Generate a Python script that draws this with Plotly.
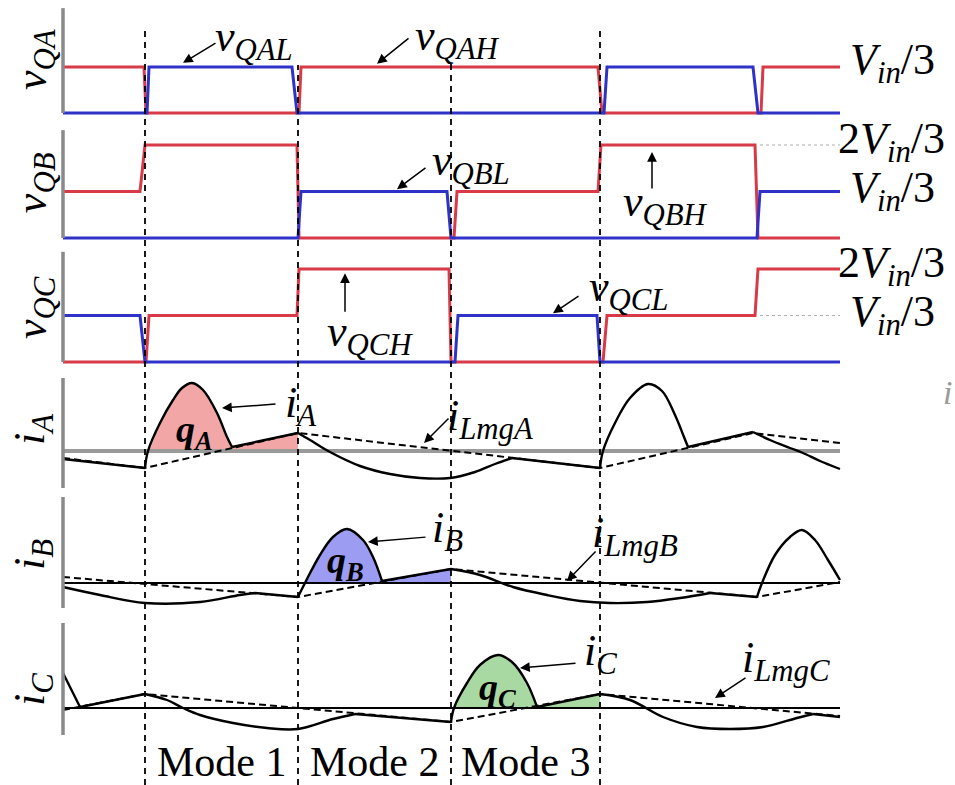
import numpy as np
import plotly.graph_objects as go

W, H = 955, 785

# ---------------------------------------------------------------- data
# time axis in arbitrary units; mode boundaries and end of the window
MODE_EDGES = [82, 235, 388, 537]
MODE_NAMES = ["Mode 1", "Mode 2", "Mode 3"]
T_END = 777

# switch voltages, in units of Vin/3
VQAH_T = [0, 81, 83, 236, 238, 535, 539, 698, 700, 777]
VQAH_V = [1, 1, 0, 0, 1, 1, 0, 0, 1, 1]
VQAL_T = [0, 84, 86, 229, 234, 541, 544, 690, 695, 777]
VQAL_V = [0, 0, 1, 1, 0, 0, 1, 1, 0, 0]

VQBH_T = [0, 77, 82, 234, 236, 391, 394, 535, 538, 692, 695, 777]
VQBH_V = [1, 1, 2, 2, 0, 0, 1, 1, 2, 2, 0, 0]
VQBL_T = [0, 235, 238, 384, 388, 694, 697, 777]
VQBL_V = [0, 0, 1, 1, 0, 0, 1, 1]

VQCH_T = [0, 83, 86, 234, 236, 386, 388, 540, 544, 692, 695, 777]
VQCH_V = [0, 0, 1, 1, 2, 2, 0, 0, 1, 1, 2, 2]
VQCL_T = [0, 77, 82, 392, 395, 534, 537, 777]
VQCL_V = [1, 1, 0, 0, 1, 1, 0, 0]

# phase currents (arbitrary units) and their kinks
IA_T = [0, 82, 85, 97, 110, 119, 129, 140, 154, 164, 169, 235, 247, 267, 297,
        327, 357, 387, 412, 432, 449, 537, 540, 552, 567, 585, 599, 612, 621,
        625, 690, 707, 727, 740, 757, 777]
IA_V = [-0.8, -1.7, 0.0, 2.8, 5.1, 6.3, 6.8, 6.1, 3.8, 1.4, 0.4, 1.8, 1.1, -0.1,
        -1.5, -2.3, -2.7, -2.7, -2.1, -1.3, -0.7, -1.7, 0.0, 2.8, 5.3, 6.7, 6.0,
        3.6, 1.4, 0.4, 1.9, 1.1, 0.3, -0.2, -1.0, -1.8]
IA_KINKS = [82, 169, 235, 449, 537, 625, 690]
ILMGA_T = [0, 82, 235, 537, 690, 777]
ILMGA_V = [-0.7, -1.7, 1.8, -1.7, 1.8, 0.8]

IB_T = [0, 37, 82, 137, 177, 192, 235, 242, 257, 270, 284, 300, 310, 319, 388,
        417, 450, 484, 517, 547, 584, 617, 647, 694, 699, 712, 727, 739, 752,
        765, 777]
IB_V = [-0.4, -1.2, -2.0, -1.9, -1.2, -1.0, -1.4, 0.0, 2.8, 4.6, 5.4, 4.3, 2.6,
        0.2, 1.4, 0.8, -0.4, -1.2, -1.8, -2.0, -1.9, -1.5, -1.0, -1.4, 0.0, 2.8,
        4.6, 5.3, 4.3, 2.3, 0.3]
IB_KINKS = [192, 235, 319, 388, 647, 694]
ILMGB_T = [0, 235, 388, 694, 777]
ILMGB_V = [0.6, -1.4, 1.4, -1.4, 0.1]

IC_T = [0, 17, 82, 104, 120, 137, 170, 204, 235, 270, 292, 388, 391, 404, 417,
        435, 450, 464, 474, 537, 567, 600, 634, 667, 700, 734, 750, 777]
IC_V = [3.5, 0.1, 1.4, 0.8, 0.0, -0.7, -1.5, -2.0, -2.1, -1.1, -0.6, -1.4, 0.0,
        2.5, 4.3, 5.3, 4.5, 2.5, 0.1, 1.4, 0.8, -0.9, -1.9, -2.1, -1.9, -1.0,
        -0.6, -0.9]
IC_KINKS = [17, 82, 292, 388, 474, 537, 750]
ILMGC_T = [0, 82, 388, 537, 777]
ILMGC_V = [-0.2, 1.4, -1.4, 1.4, -0.8]

# charge-transfer intervals (start, end) for qA, qB, qC
QA_SPAN = [82, 235]
QB_SPAN = [235, 388]
QC_SPAN = [388, 537]

# ---------------------------------------------------------------- style
RED = "#d83a48"
BLUE = "#2e32c6"
FONT = "Liberation Serif"

# panel geometry: top px, bottom px, zero-level px, px per unit
PANELS = [
    ("vQA", 0, 122, 113, 46.0),
    ("vQB", 122, 247, 238, 46.5),
    ("vQC", 247, 371, 362, 46.5),
    ("iA", 371, 495, 451, 10.0),
    ("iB", 495, 620, 583, 10.0),
    ("iC", 620, 742, 708, 10.0),
]
YREF = {}
layout_axes = {}
for i, (key, top, bot, zero, ppu) in enumerate(PANELS):
    ax_name = "yaxis" if i == 0 else f"yaxis{i + 1}"
    YREF[key] = "y" if i == 0 else f"y{i + 1}"
    layout_axes[ax_name] = dict(
        domain=[1 - bot / H, 1 - top / H],
        range=[(zero - bot) / ppu, (zero - top) / ppu],
        visible=False, fixedrange=True,
    )

fig = go.Figure()


def add_line(t, v, yref, color, width, dash=None, shape="linear"):
    fig.add_trace(go.Scatter(
        x=t, y=v, yaxis=yref, mode="lines", hoverinfo="skip",
        line=dict(color=color, width=width, dash=dash, shape=shape),
    ))


def pieces(t, v, kinks):
    t = np.asarray(t, float)
    v = np.asarray(v, float)
    cuts = [0] + [i for i, tt in enumerate(t) if tt in kinks] + [len(t) - 1]
    for a, b in zip(cuts[:-1], cuts[1:]):
        if b > a:
            yield t[a:b + 1], v[a:b + 1]


def add_current(t, v, kinks, yref):
    for pt, pv in pieces(t, v, kinks):
        add_line(pt, pv, yref, "black", 2.4, shape="spline")


def add_charge(t, v, kinks, span, yref, color):
    for pt, pv in pieces(t, v, kinks):
        m = (pt >= span[0]) & (pt <= span[1])
        if m.sum() < 2:
            continue
        fig.add_trace(go.Scatter(
            x=pt[m], y=np.maximum(pv[m], 0), yaxis=yref, mode="lines",
            fill="tozeroy", fillcolor=color, hoverinfo="skip",
            line=dict(width=0, shape="spline"),
        ))


# charge areas
add_charge(IA_T, IA_V, IA_KINKS, QA_SPAN, YREF["iA"], "#f2a6a6")
add_charge(IB_T, IB_V, IB_KINKS, QB_SPAN, YREF["iB"], "#9c9cf2")
add_charge(IC_T, IC_V, IC_KINKS, QC_SPAN, YREF["iC"], "#a9d9a3")

# zero references of the current panels
add_line([0, T_END], [0, 0], YREF["iA"], "#9a9a9a", 4)
add_line([0, T_END], [0, 0], YREF["iB"], "black", 1.8)
add_line([0, T_END], [0, 0], YREF["iC"], "black", 1.8)

# dotted guides towards the level labels
add_line([697, T_END], [2, 2], YREF["vQB"], "#b0b0b0", 1.2, dash="dot")
add_line([697, T_END], [1, 1], YREF["vQC"], "#b0b0b0", 1.2, dash="dot")

# magnetizing currents (dashed) and phase currents
for t, v, key in [(ILMGA_T, ILMGA_V, "iA"), (ILMGB_T, ILMGB_V, "iB"),
                  (ILMGC_T, ILMGC_V, "iC")]:
    add_line(t, v, YREF[key], "black", 2, dash="7px,4px")
add_current(IA_T, IA_V, IA_KINKS, YREF["iA"])
add_current(IB_T, IB_V, IB_KINKS, YREF["iB"])
add_current(IC_T, IC_V, IC_KINKS, YREF["iC"])

# switch voltages
for th, vh, tl, vl, key in [
    (VQAH_T, VQAH_V, VQAL_T, VQAL_V, "vQA"),
    (VQBH_T, VQBH_V, VQBL_T, VQBL_V, "vQB"),
    (VQCH_T, VQCH_V, VQCL_T, VQCL_V, "vQC"),
]:
    add_line(th, vh, YREF[key], RED, 3)
    add_line(tl, vl, YREF[key], BLUE, 3)

# ---------------------------------------------------------------- shapes
shapes = []
# vertical axis bars at t = 0 (value extents per panel)
AXIS_BARS = {"vQA": (0, 2.28), "vQB": (0, 2.32), "vQC": (0, 2.37),
             "iA": (-3.7, 7.3), "iB": (-2.5, 8.6), "iC": (-2.7, 8.5)}
for key, (lo, hi) in AXIS_BARS.items():
    shapes.append(dict(type="line", xref="x", yref=YREF[key], x0=0, x1=0,
                       y0=lo, y1=hi, line=dict(color="#8a8a8a", width=3.5)))
# mode boundaries
MODE_LINE_TOPS = [28, 65, 62, 28]
for te, top in zip(MODE_EDGES, MODE_LINE_TOPS):
    shapes.append(dict(type="line", xref="x", yref="paper", x0=te, x1=te,
                       y0=0, y1=1 - top / H,
                       line=dict(color="black", width=1.8, dash="6px,5px")))

# ---------------------------------------------------------------- text
ann = []


def label(text, x, y, yref, size=44, xanchor="left", yanchor="middle",
          angle=0, color="black", xref="x"):
    ann.append(dict(text=text, x=x, y=y, xref=xref, yref=yref,
                    xanchor=xanchor, yanchor=yanchor, textangle=angle,
                    showarrow=False, font=dict(family=FONT, size=size,
                                               color=color)))


def arrow(tail, head, yref):
    ann.append(dict(text="", x=head[0], y=head[1], ax=tail[0], ay=tail[1],
                    xref="x", yref=yref, axref="x", ayref=yref,
                    showarrow=True, arrowhead=2, arrowsize=1.3,
                    arrowwidth=1.5, arrowcolor="black",
                    standoff=0, startstandoff=0))


def sym(base, sub):
    return f"<i>{base}</i><sub><i>{sub}</i></sub>"


# panel titles (rotated)
for key, yv in [("vQA", 1.15), ("vQB", 1.18), ("vQC", 1.16)]:
    label(sym("v", key[1:]), -29, yv, YREF[key], xanchor="center", angle=-90)
for key, yv in [("iA", 2.1), ("iB", 2.8), ("iC", 1.8)]:
    label(sym("i", key[1:]), -31, yv, YREF[key], xanchor="center", angle=-90)

# level labels on the right
VIN3 = "<i>V</i><sub><i>in</i></sub>/3"
label(VIN3, 785, 1.1, YREF["vQA"], size=44)
label("2" + VIN3, 773, 2.08, YREF["vQB"], size=44)
label(VIN3, 785, 1.02, YREF["vQB"], size=44)
label("2" + VIN3, 773, 2.08, YREF["vQC"], size=44)
label(VIN3, 785, 1.02, YREF["vQC"], size=44)

# waveform names with pointers
label(sym("v", "QAL"), 150, 1.59, YREF["vQA"])
arrow((154, 1.54), (120, 1.09), YREF["vQA"])
label(sym("v", "QAH"), 350, 1.63, YREF["vQA"])
arrow((347, 1.65), (314, 1.07), YREF["vQA"])
label(sym("v", "QBL"), 367, 1.61, YREF["vQB"])
arrow((364, 1.53), (334, 1.05), YREF["vQB"])
label(sym("v", "QBH"), 602, 0.71, YREF["vQB"], xanchor="center")
arrow((589, 1.03), (589, 1.85), YREF["vQB"])
label(sym("v", "QCH"), 262, 0.60, YREF["vQC"])
arrow((282, 1.05), (282, 1.91), YREF["vQC"])
label(sym("v", "QCL"), 524, 1.55, YREF["vQC"])
arrow((517, 1.44), (490, 1.05), YREF["vQC"])

label(sym("i", "A"), 220, 4.6, YREF["iA"])
arrow((214, 4.7), (159, 4.3), YREF["iA"])
label(sym("i", "LmgA"), 382, 3.3, YREF["iA"])
arrow((387, 3.4), (361, 0.8), YREF["iA"])
label(sym("i", "B"), 367, 5.3, YREF["iB"])
arrow((364, 4.6), (305, 4.1), YREF["iB"])
label(sym("i", "LmgB"), 527, 4.8, YREF["iB"])
arrow((534, 3.3), (504, 0.2), YREF["iB"])
label(sym("i", "C"), 519, 5.5, YREF["iC"])
arrow((514, 4.5), (457, 4.0), YREF["iC"])
label(sym("i", "LmgC"), 677, 4.8, YREF["iC"])
arrow((684, 3.1), (652, 1.0), YREF["iC"])

# charge names
for key, tq, vq in [("A", 131, 1.9), ("B", 282, 2.0), ("C", 434, 1.8)]:
    label(f"<b><i>q</i></b><sub><b><i>{key}</i></b></sub>", tq, vq,
          YREF["i" + key], size=38, xanchor="center")

# mode names, centred between the boundaries
for name, a, b in zip(MODE_NAMES, MODE_EDGES[:-1], MODE_EDGES[1:]):
    label(name, (a + b) / 2, 1 - 762 / H, "paper", size=42, xanchor="center")

# faint clipped glyph at the right edge
label("<i>i</i>", 1 - 14 / W, 1 - 392 / H, "paper", size=34, color="#9a9a9a",
      xref="paper")

fig.update_layout(
    width=W, height=H, margin=dict(l=0, r=0, t=0, b=0),
    paper_bgcolor="white", plot_bgcolor="white", showlegend=False,
    xaxis=dict(domain=[0, 1], range=[-63, 892], visible=False,
               fixedrange=True),
    shapes=shapes, annotations=ann, **layout_axes,
)

fig.write_html("out.html")
